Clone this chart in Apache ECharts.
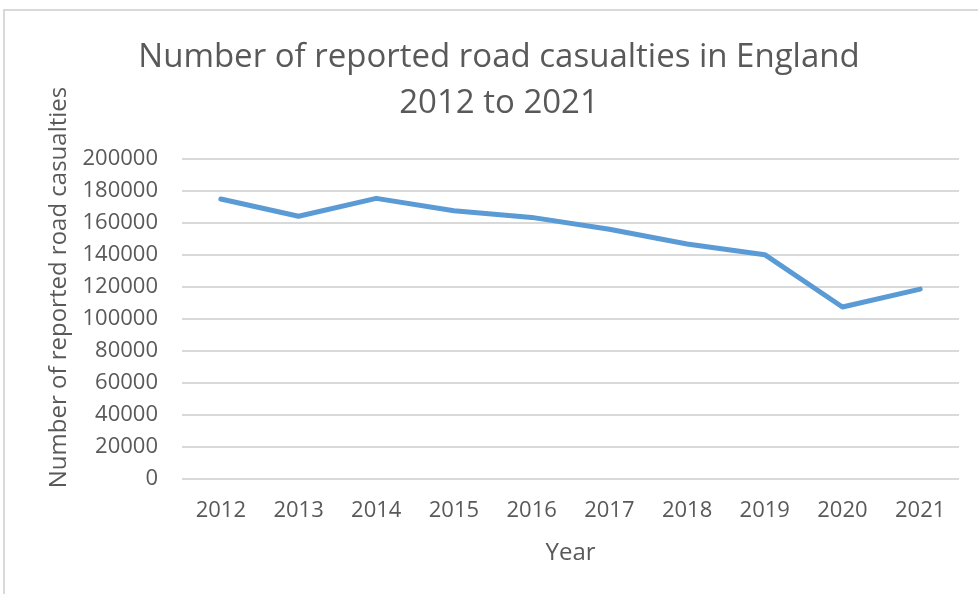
<!DOCTYPE html>
<html>
<head>
<meta charset="utf-8">
<script src="https://cdn.jsdelivr.net/npm/echarts@6/dist/echarts.min.js"></script>
<style>
  html, body { margin: 0; padding: 0; background: #ffffff; }
  #chart { width: 978px; height: 594px; }
</style>
</head>
<body>
<div id="chart"></div>
<script>
// Reported road casualties in England, by year
const years = ['2012', '2013', '2014', '2015', '2016', '2017', '2018', '2019', '2020', '2021'];
const casualties = [175000, 164200, 175400, 167700, 163500, 156100, 146900, 140200, 107500, 118700];
const yTicks = [0, 20000, 40000, 60000, 80000, 100000, 120000, 140000, 160000, 180000, 200000];

const textGrey = '#595959';
const fontFamily = '"Open Sans", "Noto Sans", sans-serif';

const chart = echarts.init(document.getElementById('chart'), null, { renderer: 'canvas' });

chart.setOption({
  animation: false,
  backgroundColor: '#ffffff',
  graphic: [{
    type: 'rect',
    shape: { x: 4, y: 10, width: 1000, height: 620 },
    style: { fill: 'none', stroke: '#d9d9d9', lineWidth: 2 },
    silent: true
  }],
  title: {
    text: 'Number of reported road casualties in England\n2012 to 2021',
    left: 494,
    textAlign: 'center',
    top: 30,
    textStyle: {
      fontFamily: fontFamily,
      fontWeight: 'normal',
      fontSize: 33,
      lineHeight: 46,
      color: textGrey
    }
  },
  grid: { left: 182, right: 19, top: 159, bottom: 115, containLabel: false },
  xAxis: {
    type: 'category',
    data: years,
    boundaryGap: true,
    name: 'Year',
    nameLocation: 'middle',
    nameGap: 62,
    nameTextStyle: { fontFamily: fontFamily, fontSize: 24, color: textGrey },
    axisLine: { show: false },
    axisTick: { show: false },
    axisLabel: { fontFamily: fontFamily, fontSize: 22, color: textGrey, margin: 21 }
  },
  yAxis: {
    type: 'value',
    min: yTicks[0],
    max: yTicks[yTicks.length - 1],
    interval: yTicks[1] - yTicks[0],
    name: 'Number of reported road casualties',
    nameLocation: 'middle',
    nameRotate: 90,
    nameGap: 106,
    nameTextStyle: {
      fontFamily: fontFamily, fontSize: 24, color: textGrey,
      padding: [0, 0, 0, 63]
    },
    axisLine: { show: false },
    axisTick: { show: false },
    axisLabel: {
      fontFamily: fontFamily, fontSize: 22, color: textGrey, margin: 24,
      formatter: (v) => String(v)
    },
    splitLine: { show: true, lineStyle: { color: '#d9d9d9', width: 2 } }
  },
  series: [{
    type: 'line',
    data: casualties,
    symbol: 'none',
    lineStyle: { color: '#5b9bd5', width: 5, cap: 'round', join: 'round' },
    itemStyle: { color: '#5b9bd5' }
  }]
});
</script>
</body>
</html>
